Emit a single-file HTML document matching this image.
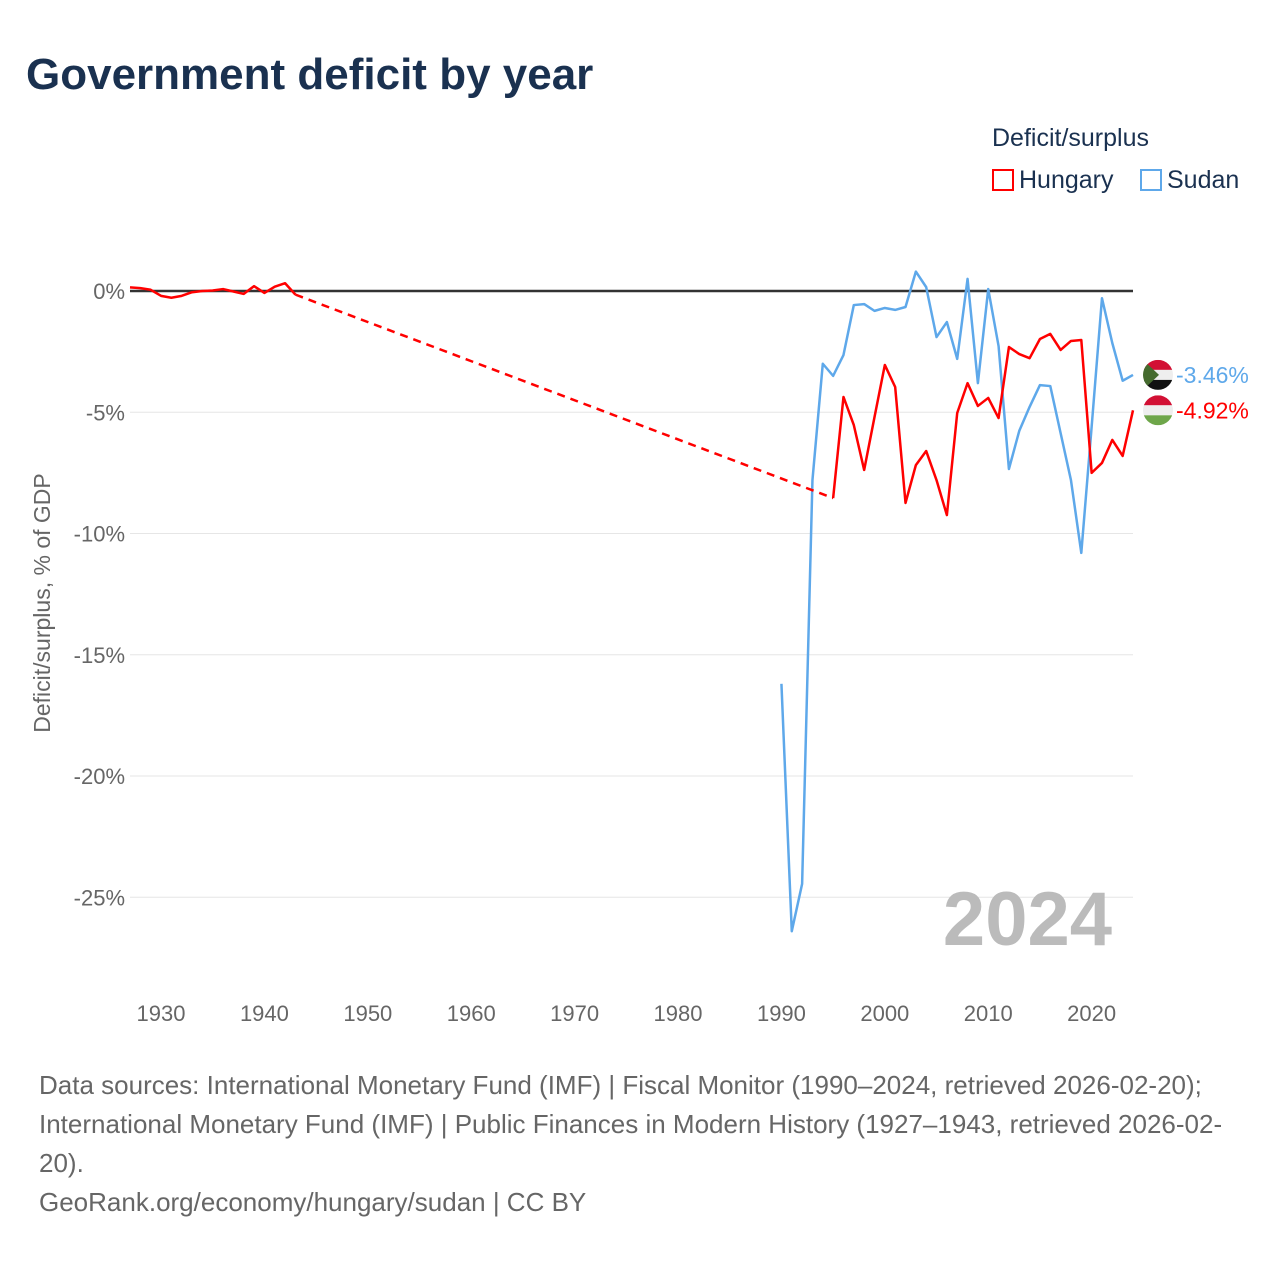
<!DOCTYPE html>
<html><head><meta charset="utf-8">
<style>
body{margin:0;background:#fff;font-family:"Liberation Sans",sans-serif;}
#wrap{position:relative;width:1280px;height:1280px;overflow:hidden;}
.t{position:absolute;white-space:nowrap;}
</style></head>
<body>
<div id="wrap">
<div class="t" style="left:26px;top:50px;font-size:44px;font-weight:bold;color:#1a3150;">Government deficit by year</div>
<div class="t" style="left:992px;top:124px;font-size:25px;color:#1a3150">Deficit/surplus</div>
<div class="t" style="left:992px;top:166px;font-size:25px;color:#1a3150"><span style="display:inline-block;width:22px;height:22px;border:2px solid #f00;box-sizing:border-box;vertical-align:-3px;margin-right:5px"></span>Hungary</div>
<div class="t" style="left:1140px;top:166px;font-size:25px;color:#1a3150"><span style="display:inline-block;width:22px;height:22px;border:2px solid #5ea8ea;box-sizing:border-box;vertical-align:-3px;margin-right:5px"></span>Sudan</div>
<svg id="chart" width="1280" height="1280" style="position:absolute;left:0;top:0"></svg>
<div class="t" style="left:39px;top:1066px;font-size:26px;line-height:39px;color:#666">Data sources: International Monetary Fund (IMF) | Fiscal Monitor (1990–2024, retrieved 2026-02-20);<br>International Monetary Fund (IMF) | Public Finances in Modern History (1927–1943, retrieved 2026-02-<br>20).<br>GeoRank.org/economy/hungary/sudan | CC BY</div>
</div>
<script>
const huYearsA=[1927,1928,1929,1930,1931,1932,1933,1934,1935,1936,1937,1938,1939,1940,1941,1942,1943];
const huValsA=[0.15,0.12,0.05,-0.2,-0.28,-0.2,-0.05,0,0.02,0.08,-0.02,-0.12,0.2,-0.08,0.18,0.32,-0.15];
const huYearsB=[1995,1996,1997,1998,1999,2000,2001,2002,2003,2004,2005,2006,2007,2008,2009,2010,2011,2012,2013,2014,2015,2016,2017,2018,2019,2020,2021,2022,2023,2024];
const huValsB=[-8.54,-4.37,-5.53,-7.38,-5.2,-3.05,-3.96,-8.74,-7.18,-6.6,-7.8,-9.24,-5.03,-3.8,-4.74,-4.41,-5.24,-2.31,-2.6,-2.77,-1.98,-1.77,-2.43,-2.06,-2.02,-7.5,-7.09,-6.14,-6.8,-4.92];
const sdYears=[1990,1991,1992,1993,1994,1995,1996,1997,1998,1999,2000,2001,2002,2003,2004,2005,2006,2007,2008,2009,2010,2011,2012,2013,2014,2015,2016,2017,2018,2019,2020,2021,2022,2023,2024];
const sdVals=[-16.2,-26.4,-24.45,-7.8,-3.0,-3.5,-2.64,-0.58,-0.54,-0.82,-0.7,-0.78,-0.66,0.8,0.16,-1.9,-1.28,-2.8,0.5,-3.8,0.08,-2.27,-7.34,-5.77,-4.78,-3.88,-3.92,-5.86,-7.8,-10.8,-5.6,-0.3,-2.15,-3.7,-3.46];
const yTicks=[0,-5,-10,-15,-20,-25];
const xTicks=[1930,1940,1950,1960,1970,1980,1990,2000,2010,2020];
const X=y=>130+(y-1927)*(1133-130)/97;
const Y=v=>291-v*24.25;
const svg=document.getElementById('chart');
const NS='http://www.w3.org/2000/svg';
function mk(tag,attrs,parent){const e=document.createElementNS(NS,tag);for(const k in attrs)e.setAttribute(k,attrs[k]);(parent||svg).appendChild(e);return e;}
yTicks.forEach(t=>{
 if(t!==0){const g=mk('line',{x1:130,x2:1133,y1:Y(t),y2:Y(t),stroke:'#e6e6e6','stroke-width':1});
 
 }
 const l=mk('text',{x:125,y:Y(t)+8,'text-anchor':'end','font-size':22,fill:'#666','font-family':'Liberation Sans, sans-serif'});
 l.textContent=t+'%';
 
 
});
xTicks.forEach(t=>{
 const l=mk('text',{x:X(t),y:1021,'text-anchor':'middle','font-size':22,fill:'#666','font-family':'Liberation Sans, sans-serif'});
 l.textContent=t;
 
 
});
const yt=mk('text',{transform:'translate(50,603) rotate(-90)','text-anchor':'middle','font-size':23,fill:'#666','font-family':'Liberation Sans, sans-serif'});
yt.textContent='Deficit/surplus, % of GDP';


const yr=mk('text',{x:1112,y:945,'text-anchor':'end','font-size':76,'font-weight':'bold',fill:'#bbb','font-family':'Liberation Sans, sans-serif'});
yr.textContent='2024';


const zl=mk('line',{x1:130,x2:1133,y1:Y(0),y2:Y(0),stroke:'#333','stroke-width':2.5});


const pts=(ys,vs)=>ys.map((y,i)=>X(y)+','+Y(vs[i])).join(' ');
const s=mk('polyline',{points:pts(sdYears,sdVals),fill:'none',stroke:'#5ea8ea','stroke-width':2.5,'stroke-linejoin':'round'});


const ha=mk('polyline',{points:pts(huYearsA,huValsA),fill:'none',stroke:'#f00','stroke-width':2.5,'stroke-linejoin':'round'});


const hd=mk('line',{x1:X(huYearsA[huYearsA.length-1]),y1:Y(huValsA[huValsA.length-1]),x2:X(huYearsB[0]),y2:Y(huValsB[0]),stroke:'#f00','stroke-width':2.5,'stroke-dasharray':'8,6'});


const hb=mk('polyline',{points:pts(huYearsB,huValsB),fill:'none',stroke:'#f00','stroke-width':2.5,'stroke-linejoin':'round'});


const sy=Y(sdVals[sdVals.length-1]), hy=Y(huValsB[huValsB.length-1]);
const fs=mk('g',{});


const cp1=mk('clipPath',{id:'c1'},fs);mk('circle',{cx:1158,cy:sy,r:15},cp1);
const g1=mk('g',{'clip-path':'url(#c1)'},fs);
mk('rect',{x:1143,y:sy-15,width:30,height:10,fill:'#d21034'},g1);
mk('rect',{x:1143,y:sy-5,width:30,height:10,fill:'#eee'},g1);
mk('rect',{x:1143,y:sy+5,width:30,height:10,fill:'#111'},g1);
mk('polygon',{points:`1143,${sy-15} 1159,${sy} 1143,${sy+15}`,fill:'#456b2e'},g1);
const fh=mk('g',{});


const cp2=mk('clipPath',{id:'c2'},fh);mk('circle',{cx:1158,cy:hy,r:15},cp2);
const g2=mk('g',{'clip-path':'url(#c2)'},fh);
mk('rect',{x:1143,y:hy-15,width:30,height:10,fill:'#d21034'},g2);
mk('rect',{x:1143,y:hy-5,width:30,height:10,fill:'#eee'},g2);
mk('rect',{x:1143,y:hy+5,width:30,height:10,fill:'#6ea64a'},g2);
const sl=mk('text',{x:1176,y:sy+8,'font-size':23,fill:'#5ea8ea','font-family':'Liberation Sans, sans-serif'});
sl.textContent=sdVals[sdVals.length-1].toFixed(2)+'%';


const hl=mk('text',{x:1176,y:hy+8,'font-size':23,fill:'#f00','font-family':'Liberation Sans, sans-serif'});
hl.textContent=huValsB[huValsB.length-1].toFixed(2)+'%';


</script>
</body></html>
